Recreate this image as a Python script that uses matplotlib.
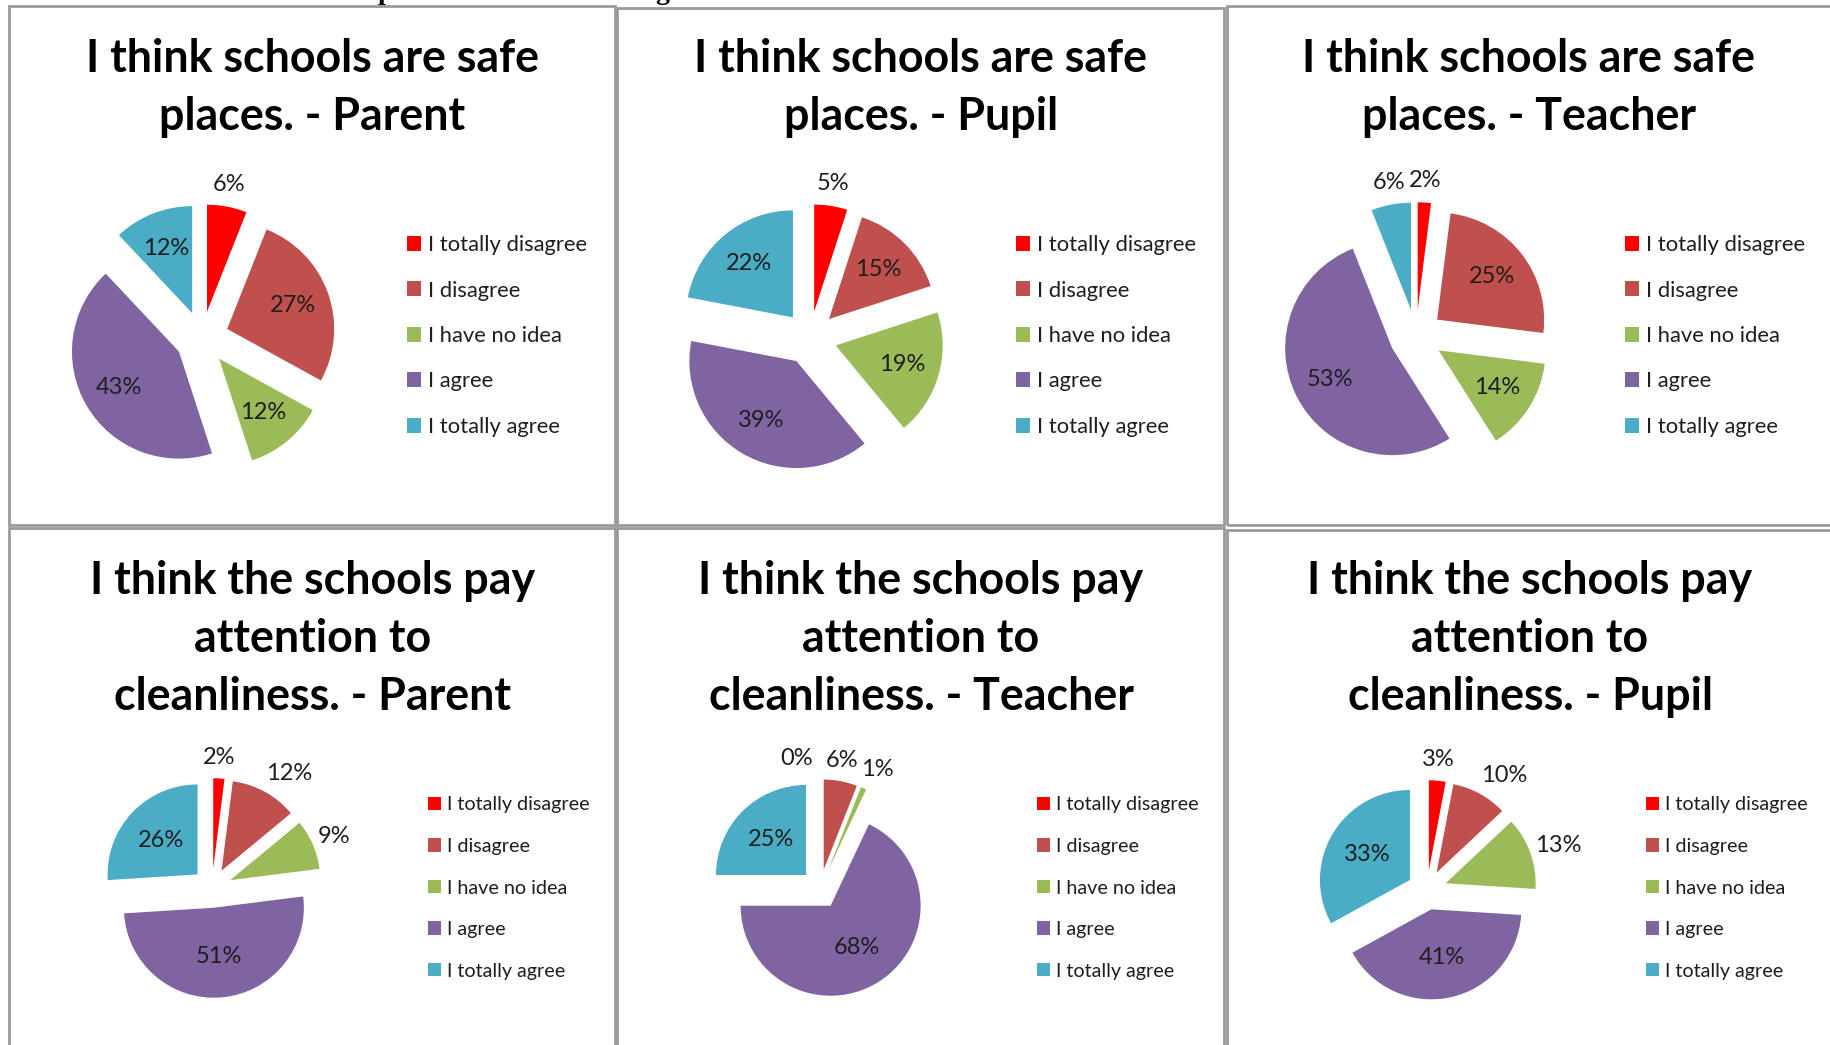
import matplotlib
matplotlib.use("Agg")
import matplotlib.pyplot as plt
from matplotlib.patches import Rectangle
import numpy as np

W, H, DPI = 1830, 1045, 100

# ---------------- data ----------------
categories = ["I totally disagree", "I disagree", "I have no idea", "I agree", "I totally agree"]
colors = ["#FF0000", "#C0504D", "#9BBB59", "#8064A2", "#4BACC6"]

safe_parent = [6, 27, 12, 43, 12]
safe_pupil = [5, 15, 19, 39, 22]
safe_teacher = [2, 25, 14, 53, 6]
clean_parent = [2, 12, 9, 51, 26]
clean_teacher = [0, 6, 1, 68, 25]
clean_pupil = [3, 10, 13, 41, 33]

title_safe_parent = ["I think schools are safe", "places. - Parent"]
title_safe_pupil = ["I think schools are safe", "places. - Pupil"]
title_safe_teacher = ["I think schools are safe", "places. - Teacher"]
title_clean_parent = ["I think the schools pay", "attention to", "cleanliness. - Parent"]
title_clean_teacher = ["I think the schools pay", "attention to", "cleanliness. - Teacher"]
title_clean_pupil = ["I think the schools pay", "attention to", "cleanliness. - Pupil"]

# ---------------- layout (pixels) ----------------
top = dict(r=107, explode=0.25, inside=0.65, min_inside=10,
           title_base=[72, 130], leg_y=336, leg_fs=15.8, leg_row=46.5)
bot = dict(r=90, explode=0.22, inside=0.55, min_inside=20,
           title_base=[594, 652, 710], leg_y=888, leg_fs=14.2, leg_row=43.5)

panels = [
    dict(top, values=safe_parent, title=title_safe_parent, box=(9, 6, 615, 525),
         center=(202, 338), tx=312, leg_x=407),
    dict(top, values=safe_pupil, title=title_safe_pupil, box=(617, 8, 1224, 525),
         center=(810, 338), tx=921, leg_x=1016),
    dict(top, values=safe_teacher, title=title_safe_teacher, box=(1227, 6, 1840, 525),
         center=(1416, 336), tx=1529, leg_x=1625),
    dict(bot, values=clean_parent, title=title_clean_parent, box=(9, 528, 615, 1060),
         center=(212, 888), tx=313, leg_x=428),
    dict(bot, values=clean_teacher, title=title_clean_teacher, box=(617, 528, 1224, 1060),
         center=(820, 889), tx=921, leg_x=1037),
    dict(bot, values=clean_pupil, title=title_clean_pupil, box=(1227, 530, 1840, 1060),
         center=(1427, 890), tx=1530, leg_x=1646),
]

TITLE_FONT = "Lato"
BODY_FONT = "Lato"
LABEL_FS = 17
TITLE_FS = 32.2

fig = plt.figure(figsize=(W / DPI, H / DPI), dpi=DPI)
fig.patch.set_facecolor("white")


def fx(x):
    return x / W


def fy(y):
    return 1 - y / H


# cut-off caption at very top of the page (only descenders visible)
fig.text(fx(378), fy(-1), "p", fontsize=20, family="Liberation Serif", weight="bold",
         ha="left", va="baseline")
fig.text(fx(655), fy(-1), "g", fontsize=20, family="Liberation Serif", weight="bold",
         ha="left", va="baseline")

for p in panels:
    x0, y0, x1, y1 = p["box"]
    fig.patches.append(Rectangle((fx(x0), fy(y1)), fx(x1 - x0), (y1 - y0) / H,
                                 transform=fig.transFigure, fill=False,
                                 edgecolor="#9a9a9a", linewidth=2.0, zorder=0))

    # title
    for line, yb in zip(p["title"], p["title_base"]):
        fig.text(fx(p["tx"]), fy(yb), line, ha="center", va="baseline",
                 fontsize=TITLE_FS, fontweight="bold", family=TITLE_FONT, color="black")

    # pie axes: square in pixels, radius 1 in data units
    cx, cy = p["center"]
    r = p["r"]
    S = 1.75 * r
    ax = fig.add_axes([fx(cx - S), fy(cy + S), 2 * S / W, 2 * S / H])
    ax.patch.set_visible(False)
    vals = p["values"]
    wedges, _ = ax.pie(vals, colors=colors, startangle=90, counterclock=False,
                       explode=[p["explode"]] * len(vals), radius=1,
                       wedgeprops=dict(linewidth=0))
    ax.set_xlim(-S / r, S / r)
    ax.set_ylim(-S / r, S / r)
    ax.axis("off")

    fs_px = LABEL_FS * DPI / 72
    for w, v in zip(wedges, vals):
        th = np.deg2rad((w.theta1 + w.theta2) / 2)
        ex, ey = w.center
        c, s = np.cos(th), np.sin(th)
        txt = f"{v}%"
        if v >= p["min_inside"]:
            x = ex + p["inside"] * c
            y = ey + p["inside"] * s
        else:
            hw = 0.55 * len(txt) * fs_px / 2 / r
            hh = 0.5 * fs_px / r
            side = np.clip((abs(c) - 0.2) * 4, 0, 1) * np.sign(c)
            x = ex + 1.1 * c + hw * side
            y = ey + 1.1 * s + hh * s
            if v == 0:
                x -= 1.8 * hw
        ax.text(x, y, txt, ha="center", va="center", fontsize=LABEL_FS,
                family=BODY_FONT, color="#1e1e1e")

    # legend
    lfs = p["leg_fs"]
    lfs_px = lfs * DPI / 72
    handles = [Rectangle((0, 0), 1, 1, facecolor=col, edgecolor="none") for col in colors]
    text_h = 0.96 * lfs_px
    spacing = (p["leg_row"] - text_h) / lfs_px
    leg = ax.legend(handles, categories, loc="center left",
                    bbox_to_anchor=(fx(p["leg_x"]), fy(p["leg_y"])),
                    bbox_transform=fig.transFigure, frameon=False,
                    borderpad=0, borderaxespad=0, handlelength=0.66, handleheight=0.66,
                    handletextpad=0.3, labelspacing=spacing,
                    prop=dict(family=BODY_FONT, size=lfs))
    for t in leg.get_texts():
        t.set_color("#1e1e1e")

fig.savefig("out.png", dpi=DPI, facecolor="white")
